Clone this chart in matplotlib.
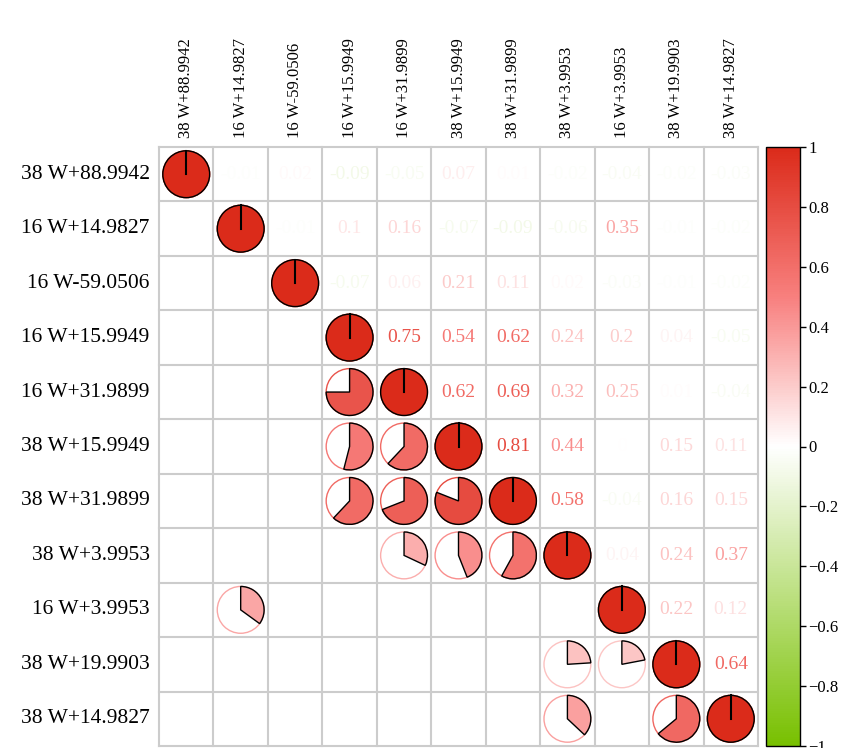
import numpy as np
import matplotlib
matplotlib.use("Agg")
import matplotlib.pyplot as plt
from matplotlib.colors import LinearSegmentedColormap, Normalize
from matplotlib.patches import Wedge, Circle
from matplotlib.colorbar import ColorbarBase

plt.rcParams["font.family"] = ["Liberation Serif", "DejaVu Serif"]

labels = ["38 W+88.9942", "16 W+14.9827", "16 W-59.0506", "16 W+15.9949",
          "16 W+31.9899", "38 W+15.9949", "38 W+31.9899", "38 W+3.9953",
          "16 W+3.9953", "38 W+19.9903", "38 W+14.9827"]

# upper triangle correlations, row by row (values right of the diagonal)
upper = [
    [-0.01, 0.02, -0.09, -0.05, 0.07, 0.01, -0.02, -0.04, -0.02, -0.03],
    [-0.01, 0.1, 0.16, -0.07, -0.09, -0.06, 0.35, -0.01, -0.02],
    [-0.07, 0.06, 0.21, 0.11, 0.02, -0.03, -0.01, -0.02],
    [0.75, 0.54, 0.62, 0.24, 0.2, 0.04, -0.05],
    [0.62, 0.69, 0.32, 0.25, 0.01, -0.04],
    [0.81, 0.44, 0.0, 0.15, 0.11],
    [0.58, -0.04, 0.16, 0.15],
    [0.04, 0.24, 0.37],
    [0.22, 0.12],
    [0.64],
]

# lower triangle cells that get a pie (row, col)
pie_cells = [(4, 3), (5, 3), (5, 4), (6, 3), (6, 4), (6, 5), (7, 4), (7, 5),
             (7, 6), (8, 1), (9, 7), (9, 8), (10, 7), (10, 9)]

cbar_ticks = [-1, -0.8, -0.6, -0.4, -0.2, 0, 0.2, 0.4, 0.6, 0.8, 1]

n = len(labels)
corr = np.eye(n)
for i, row in enumerate(upper):
    for k, v in enumerate(row):
        j = i + 1 + k
        corr[i, j] = v
        corr[j, i] = v

cmap = LinearSegmentedColormap.from_list(
    "gwr", [(0.0, "#78c000"), (0.5, "#ffffff"), (0.75, "#f8807e"), (1.0, "#db2b1a")])
norm = Normalize(-1, 1)

fig = plt.figure(figsize=(8.41, 7.48), dpi=100)
ax = fig.add_axes([159 / 841, 2 / 748, 599 / 841, 599 / 748])
ax.set_xlim(0, n)
ax.set_ylim(n, 0)
ax.set_aspect("equal")
ax.axis("off")

# grid
for k in range(n + 1):
    ax.plot([k, k], [0, n], color="#cccccc", lw=1.5, zorder=1, clip_on=False)
    ax.plot([0, n], [k, k], color="#cccccc", lw=1.5, zorder=1, clip_on=False)

r = 0.43


def pie(x, y, v):
    col = cmap(norm(v))
    ax.add_patch(Circle((x, y), r, facecolor="white", edgecolor=col, lw=1.0, zorder=2))
    if v >= 0.999:
        ax.add_patch(Circle((x, y), r, facecolor=col, edgecolor="black", lw=1.0, zorder=3))
        ax.plot([x, x], [y, y - r], color="black", lw=1.5, zorder=4)
    else:
        # y axis is inverted: start at 12 o'clock and go clockwise
        ax.add_patch(Wedge((x, y), r, 270, 270 + 360 * v, facecolor=col,
                           edgecolor="black", lw=1.0, zorder=3))


for i in range(n):
    pie(i + 0.5, i + 0.5, 1.0)
    for j in range(i + 1, n):
        v = corr[i, j]
        txt = "0" if v == 0 else "%g" % v
        ax.text(j + 0.5, i + 0.5, txt, ha="center", va="center", fontsize=14,
                color=cmap(norm(v)), zorder=3)

for (i, j) in pie_cells:
    pie(j + 0.5, i + 0.5, corr[i, j])

for k, lab in enumerate(labels):
    ax.text(-0.17, k + 0.5, lab, ha="right", va="center", fontsize=15.5)
    ax.text(k + 0.5, -0.17, lab, ha="center", va="bottom", rotation=90, fontsize=12)

cax = fig.add_axes([766 / 841, 2 / 748, 34 / 841, 599 / 748])
cb = ColorbarBase(cax, cmap=cmap, norm=norm, ticks=cbar_ticks)
cb.set_ticklabels(["%g" % t if t >= 0 else "\u2212%g" % -t for t in cbar_ticks])
cax.tick_params(labelsize=12, length=4, width=1, pad=2)
cb.outline.set_linewidth(1)

fig.savefig("out.png", dpi=100)
